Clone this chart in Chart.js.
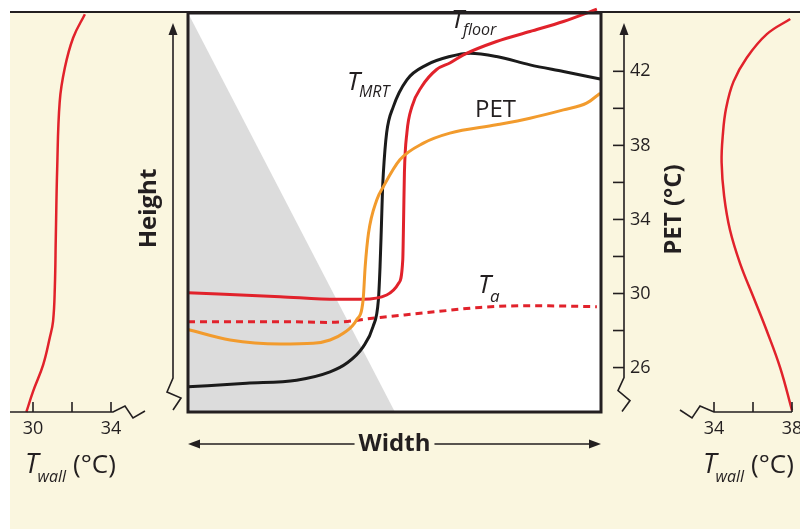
<!DOCTYPE html>
<html>
<head>
<meta charset="utf-8">
<script src="https://cdn.jsdelivr.net/npm/chart.js@4/dist/chart.umd.min.js"></script>
<style>
  body { margin: 0; background: #fff; }
  #wrap { position: relative; width: 800px; height: 529px; overflow: hidden; }
  #cream { position: absolute; left: 10px; top: 11px; width: 790px; height: 518px; background: #faf6df; border-top: 2px solid #231f20; }
  canvas { position: absolute; left: 0; top: 0; }
</style>
</head>
<body>
<div id="wrap">
  <div id="cream"></div>
  <canvas id="leftChart" width="800" height="529"></canvas>
  <canvas id="mainChart" width="800" height="529"></canvas>
  <canvas id="rightChart" width="800" height="529"></canvas>
</div>
<script>
// centre panel: position across the street width (0 = left wall, 1 = right wall), temperature in °C
const floorPos = [0, 0.223, 0.360, 0.424, 0.481, 0.510, 0.520, 0.522, 0.524, 0.530, 0.542, 0.566, 0.602, 0.634, 0.667, 0.747, 0.828, 0.909, 0.990];
const floorTemp = [30.04, 29.83, 29.69, 29.69, 29.92, 30.55, 31.81, 33.97, 36.51, 38.68, 40.08, 41.18, 42.1, 42.45, 42.89, 43.61, 44.15, 44.69, 45.36];

const mrtPos = [0, 0.142, 0.263, 0.344, 0.384, 0.424, 0.448, 0.461, 0.465, 0.468, 0.471, 0.473, 0.481, 0.497, 0.530, 0.578, 0.634, 0.683, 0.747, 0.828, 0.909, 0.998];
const mrtTemp = [24.96, 25.15, 25.32, 25.77, 26.23, 27.12, 28.21, 29.65, 31.45, 33.43, 35.59, 36.51, 38.68, 40.08, 41.54, 42.35, 42.80, 42.98, 42.80, 42.35, 41.99, 41.59];

const petPos = [0, 0.102, 0.223, 0.303, 0.344, 0.376, 0.408, 0.424, 0.429, 0.437, 0.457, 0.473, 0.513, 0.570, 0.634, 0.747, 0.828, 0.909, 0.965, 0.998];
const petTemp = [28.06, 27.49, 27.27, 27.31, 27.49, 27.85, 28.57, 29.65, 31.45, 33.25, 35.05, 35.77, 37.22, 38.12, 38.66, 39.11, 39.47, 39.92, 40.28, 40.82];

const airPos = [0, 0.223, 0.344, 0.465, 0.602, 0.707, 0.828, 0.990];
const airTemp = [28.48, 28.48, 28.44, 28.71, 29.02, 29.25, 29.34, 29.29];

// shaded part of the street
const shadePos = [0, 0.501];
const tempMin = 23.6;
const tempMax = 45.15;
const shadeTemp = [tempMax, tempMin];

// PET axis
const petTicks = [26, 28, 30, 32, 34, 36, 38, 40, 42];
const petTickLabels = ['26', '', '30', '', '34', '', '38', '', '42'];

// wall temperature profiles (height 0 = ground, 1 = roof)
const leftWallT = [29.66, 30.0, 30.52, 30.86, 31.03, 31.12, 31.17, 31.24, 31.37, 31.63, 32.06, 32.66];
const leftWallH = [0, 0.051, 0.118, 0.186, 0.228, 0.313, 0.440, 0.609, 0.778, 0.862, 0.938, 0.997];
const leftTicks = [30, 32, 34];
const leftTickLabels = ['30', '', '34'];

const rightWallT = [38.0, 37.40, 36.71, 36.03, 35.34, 34.82, 34.52, 34.39, 34.45, 34.62, 35.0, 35.68, 36.71, 37.91];
const rightWallH = [0.004, 0.110, 0.203, 0.287, 0.372, 0.456, 0.541, 0.626, 0.693, 0.761, 0.828, 0.888, 0.947, 0.985];
const rightTicks = [34, 36, 38];
const rightTickLabels = ['34', '', '38'];

const ink = '#231f20';
const red = '#e1222b';
const orange = '#f29b2d';
const FONT = '"Open Sans", "Noto Sans", sans-serif';

function pts(xs, ys) {
  return xs.map((x, i) => ({ x: x, y: ys[i] }));
}

function arrowHead(ctx, x, y, dx, dy) {
  // tip at (x,y), pointing along (dx,dy)
  const len = 12, half = 4.5;
  const px = -dy, py = dx;
  ctx.beginPath();
  ctx.moveTo(x, y);
  ctx.lineTo(x - dx * len + px * half, y - dy * len + py * half);
  ctx.lineTo(x - dx * len - px * half, y - dy * len - py * half);
  ctx.closePath();
  ctx.fill();
}

function subLabel(ctx, x, y, main, sub, size, subSize, drop) {
  ctx.font = 'italic ' + size + 'px ' + FONT;
  ctx.fillText(main, x, y);
  const w = ctx.measureText(main).width;
  ctx.font = 'italic ' + subSize + 'px ' + FONT;
  ctx.fillText(sub, x + w - 1, y + drop);
  return x + w - 1 + ctx.measureText(sub).width;
}

function wallTitle(ctx, x, y) {
  ctx.fillStyle = ink;
  ctx.textAlign = 'left';
  ctx.textBaseline = 'alphabetic';
  const end = subLabel(ctx, x, y, 'T', 'wall', 27, 16, 9);
  ctx.font = '26px ' + FONT;
  ctx.fillText('(°C)', end + 7, y);
}

function wallAxis(ctx, xs, a, ticks, labels, side) {
  const yb = a.bottom;
  ctx.strokeStyle = ink;
  ctx.lineWidth = 1.6;
  const p0 = xs.getPixelForValue(ticks[0]);
  const p1 = xs.getPixelForValue(ticks[ticks.length - 1]);
  ctx.beginPath();
  if (side === 'left') {
    ctx.moveTo(10, yb);
    ctx.lineTo(p1 + 2, yb);
    ctx.lineTo(p1 + 14, yb - 6);
    ctx.lineTo(p1 + 22, yb + 6);
    ctx.lineTo(p1 + 34, yb - 1);
  } else {
    ctx.moveTo(p0 - 34, yb - 2);
    ctx.lineTo(p0 - 22, yb + 6);
    ctx.lineTo(p0 - 14, yb - 6);
    ctx.lineTo(p0, yb);
    ctx.lineTo(p1, yb);
  }
  ctx.stroke();
  ticks.forEach(t => {
    const px = xs.getPixelForValue(t);
    ctx.beginPath();
    ctx.moveTo(px, yb);
    ctx.lineTo(px, yb - 10);
    ctx.stroke();
  });
  ctx.fillStyle = ink;
  ctx.font = '18px ' + FONT;
  ctx.textAlign = 'center';
  ctx.textBaseline = 'middle';
  ticks.forEach((t, i) => {
    if (labels[i]) ctx.fillText(labels[i], xs.getPixelForValue(t), yb + 17);
  });
}

const mainDecor = {
  id: 'mainDecor',
  beforeDraw(chart) {
    const { ctx, chartArea: a } = chart;
    ctx.save();
    ctx.fillStyle = '#fff';
    ctx.fillRect(a.left, a.top, a.right - a.left, a.bottom - a.top);
    ctx.restore();
  },
  afterDraw(chart) {
    const { ctx, chartArea: a, scales: { x, y } } = chart;
    ctx.save();
    // box
    ctx.strokeStyle = ink;
    ctx.lineWidth = 3;
    ctx.strokeRect(a.left, a.top, a.right - a.left, a.bottom - a.top);

    // curve labels
    ctx.fillStyle = ink;
    ctx.textAlign = 'left';
    ctx.textBaseline = 'alphabetic';
    subLabel(ctx, x.getPixelForValue(0.637), y.getPixelForValue(44.35), 'T', 'floor', 26, 16, 7);
    subLabel(ctx, x.getPixelForValue(0.385), y.getPixelForValue(41.0), 'T', 'MRT', 26, 16, 7);
    subLabel(ctx, x.getPixelForValue(0.702), y.getPixelForValue(30.03), 'T', 'a', 26, 17, 9);
    ctx.font = '24px ' + FONT;
    ctx.fillText('PET', x.getPixelForValue(0.695), y.getPixelForValue(39.54));

    // PET axis on the right
    const ax = a.right + 23;
    const bottomTick = y.getPixelForValue(petTicks[0]);
    ctx.lineWidth = 1.6;
    ctx.beginPath();
    ctx.moveTo(ax, a.top + 20);
    ctx.lineTo(ax, bottomTick + 10);
    ctx.lineTo(ax - 6, bottomTick + 23);
    ctx.lineTo(ax + 6, bottomTick + 33);
    ctx.lineTo(ax - 2, bottomTick + 44);
    ctx.stroke();
    arrowHead(ctx, ax, a.top + 10, 0, -1);
    petTicks.forEach((t, i) => {
      const py = y.getPixelForValue(t);
      ctx.beginPath();
      ctx.moveTo(ax - 11, py);
      ctx.lineTo(ax, py);
      ctx.stroke();
      if (petTickLabels[i]) {
        ctx.font = '18px ' + FONT;
        ctx.textBaseline = 'middle';
        ctx.fillText(petTickLabels[i], ax + 6, py);
      }
    });
    ctx.save();
    ctx.translate(ax + 50, (a.top + a.bottom) / 2 - 3);
    ctx.rotate(-Math.PI / 2);
    ctx.textAlign = 'center';
    ctx.textBaseline = 'middle';
    ctx.font = 'bold 24px ' + FONT;
    ctx.fillText('PET (°C)', 0, 0);
    ctx.restore();

    // height arrow on the left
    const hx = a.left - 15;
    ctx.beginPath();
    ctx.moveTo(hx, a.top + 20);
    ctx.lineTo(hx, a.bottom - 34);
    ctx.lineTo(hx - 6, a.bottom - 20);
    ctx.lineTo(hx + 8, a.bottom - 14);
    ctx.lineTo(hx, a.bottom - 2);
    ctx.stroke();
    arrowHead(ctx, hx, a.top + 10, 0, -1);
    ctx.save();
    ctx.translate(hx - 24, (a.top + a.bottom) / 2 - 4);
    ctx.rotate(-Math.PI / 2);
    ctx.textAlign = 'center';
    ctx.textBaseline = 'middle';
    ctx.font = 'bold 24px ' + FONT;
    ctx.fillText('Height', 0, 0);
    ctx.restore();

    // width arrow below
    const wy = a.bottom + 32;
    const cx = (a.left + a.right) / 2;
    ctx.font = 'bold 24px ' + FONT;
    const tw = ctx.measureText('Width').width;
    ctx.beginPath();
    ctx.moveTo(a.left + 8, wy);
    ctx.lineTo(cx - tw / 2 - 4, wy);
    ctx.moveTo(cx + tw / 2 + 4, wy);
    ctx.lineTo(a.right - 8, wy);
    ctx.stroke();
    arrowHead(ctx, a.left, wy, -1, 0);
    arrowHead(ctx, a.right, wy, 1, 0);
    ctx.textAlign = 'center';
    ctx.textBaseline = 'middle';
    ctx.fillText('Width', cx, wy);
    ctx.restore();
  }
};

const leftDecor = {
  id: 'leftDecor',
  afterDraw(chart) {
    const { ctx, chartArea: a, scales: { x } } = chart;
    ctx.save();
    wallAxis(ctx, x, a, leftTicks, leftTickLabels, 'left');
    wallTitle(ctx, x.getPixelForValue(30) - 8, a.bottom + 61);
    ctx.restore();
  }
};

const rightDecor = {
  id: 'rightDecor',
  afterDraw(chart) {
    const { ctx, chartArea: a, scales: { x } } = chart;
    ctx.save();
    wallAxis(ctx, x, a, rightTicks, rightTickLabels, 'right');
    wallTitle(ctx, x.getPixelForValue(34) - 11, a.bottom + 61);
    ctx.restore();
  }
};

const base = {
  responsive: false,
  animation: false,
  events: [],
  plugins: { legend: { display: false }, tooltip: { enabled: false } },
  elements: { point: { radius: 0 } }
};

new Chart('mainChart', {
  type: 'line',
  data: {
    datasets: [
      { data: pts(petPos, petTemp), borderColor: orange, borderWidth: 3, cubicInterpolationMode: 'monotone', clip: false },
      { data: pts(floorPos, floorTemp), borderColor: red, borderWidth: 3, cubicInterpolationMode: 'monotone', clip: false },
      { data: pts(mrtPos, mrtTemp), borderColor: '#1b1b1b', borderWidth: 3, cubicInterpolationMode: 'monotone', clip: false },
      { data: pts(airPos, airTemp), borderColor: red, borderWidth: 3, borderDash: [7, 5], cubicInterpolationMode: 'monotone' },
      { data: pts(shadePos, shadeTemp), borderWidth: 0, borderColor: 'rgba(0,0,0,0)', backgroundColor: '#dcdcdc', fill: 'start' }
    ]
  },
  options: Object.assign({}, base, {
    layout: { padding: { left: 188, top: 13, right: 199, bottom: 117 } },
    scales: {
      x: { type: 'linear', min: 0, max: 1, display: false },
      y: { min: tempMin, max: tempMax, display: false }
    }
  }),
  plugins: [mainDecor]
});

new Chart('leftChart', {
  type: 'line',
  data: {
    datasets: [
      { data: pts(leftWallT, leftWallH), borderColor: red, borderWidth: 2.5, tension: 0.4, clip: false }
    ]
  },
  options: Object.assign({}, base, {
    layout: { padding: { left: 33, top: 13, right: 689, bottom: 117 } },
    scales: {
      x: { type: 'linear', min: leftTicks[0], max: leftTicks[2], display: false },
      y: { min: 0, max: 1, display: false }
    }
  }),
  plugins: [leftDecor]
});

new Chart('rightChart', {
  type: 'line',
  data: {
    datasets: [
      { data: pts(rightWallT, rightWallH), borderColor: red, borderWidth: 2.5, tension: 0.4, clip: false }
    ]
  },
  options: Object.assign({}, base, {
    layout: { padding: { left: 714, top: 13, right: 8, bottom: 117 } },
    scales: {
      x: { type: 'linear', min: rightTicks[0], max: rightTicks[2], display: false },
      y: { min: 0, max: 1, display: false }
    }
  }),
  plugins: [rightDecor]
});
</script>
</body>
</html>
